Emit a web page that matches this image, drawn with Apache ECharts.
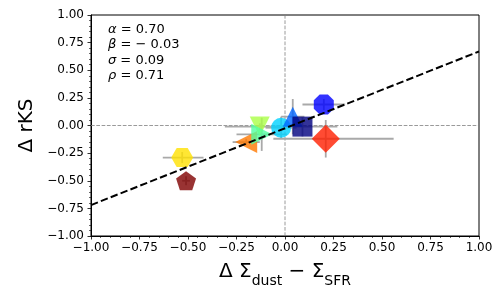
<!DOCTYPE html>
<html>
<head>
<meta charset="utf-8">
<script src="https://cdn.jsdelivr.net/npm/echarts@6/dist/echarts.min.js"></script>
<style>
  html, body { margin: 0; padding: 0; background: #fff; }
  #chart { width: 504px; height: 288px; }
</style>
</head>
<body>
<div id="chart"></div>
<script>
// ---- data ----
const pointNames = ['yellow', 'brown', 'orange', 'lightgreen', 'mint', 'cyan', 'blue', 'navy', 'red', 'octagon'];
const xVals    = [-0.53, -0.51, -0.20, -0.13, -0.12, -0.02, 0.04, 0.09, 0.21, 0.20];
const yVals    = [-0.29, -0.50, -0.15, -0.01, -0.08, -0.02, 0.08, -0.01, -0.12, 0.19];
const xErrLow  = [0.10, 0.02, 0.07, 0.18, 0.13, 0.08, 0.06, 0.18, 0.27, 0.11];
const xErrHigh = [0.11, 0.02, 0.07, 0.18, 0.13, 0.08, 0.06, 0.18, 0.35, 0.11];
const yErr     = [0.05, 0.04, 0.03, 0.03, 0.15, 0.10, 0.16, 0.09, 0.17, 0.05];
const fitX = [-1.0, 1.0];
const fitY = [-0.72, 0.67];
const xTicks = [-1.0, -0.75, -0.5, -0.25, 0.0, 0.25, 0.5, 0.75, 1.0];
const yTicks = [-1.0, -0.75, -0.5, -0.25, 0.0, 0.25, 0.5, 0.75, 1.0];
const statLines = [['α', '0.70'], ['β', '− 0.03'], ['σ', '0.09'], ['ρ', '0.71']];

// ---- styles ----
const HEX = 'path://M200,86.6 L150,173.2 L50,173.2 L0,86.6 L50,0 L150,0 Z';
const PENT = 'path://M95.1,0 L190.2,69.1 L153.9,180.9 L36.3,180.9 L0,69.1 Z';
const OCT = 'path://M70.7,0 L170.7,0 L241.4,70.7 L241.4,170.7 L170.7,241.4 L70.7,241.4 L0,170.7 L0,70.7 Z';
const markerShapes = [HEX, PENT, 'triangle', 'triangle', 'triangle', 'circle', 'triangle', 'rect', 'diamond', OCT];
const markerRotate = [0, 0, 90, 180, -90, 0, 0, 0, 0, 0];
const markerSizes  = [[22, 19], [20, 19], 22, 20, 21, 20, 20, 20, 28, 20];
const markerColors = ['rgb(255,225,0)', 'rgb(128,0,0)', 'rgb(255,120,0)', 'rgb(170,255,70)', 'rgb(80,255,160)',
                      'rgb(0,210,255)', 'rgb(0,100,255)', 'rgb(0,0,128)', 'rgb(255,30,0)', 'rgb(0,0,255)'];

const FONT = 'DejaVu Sans';
const fmt = v => (v < 0 ? '\u2212' : '') + Math.abs(v).toFixed(2);

const chart = echarts.init(document.getElementById('chart'), null, { renderer: 'canvas' });

const errData = xVals.map((x, i) => [x, yVals[i], xErrLow[i], xErrHigh[i], yErr[i]]);
const scatterData = xVals.map((x, i) => ({
  name: pointNames[i],
  value: [x, yVals[i]],
  symbol: markerShapes[i],
  symbolSize: markerSizes[i],
  symbolRotate: markerRotate[i],
  itemStyle: { color: markerColors[i], opacity: 0.8 }
}));

const axisCommon = {
  min: -1, max: 1, interval: 0.25,
  axisLine: { show: true, onZero: false, lineStyle: { color: '#000', width: 1 } },
  axisTick: { show: true, inside: false, length: 3.5, lineStyle: { color: '#000', width: 0.8 } },
  minorTick: { show: true, splitNumber: 5, length: 2, lineStyle: { color: '#000', width: 0.6 } },
  splitLine: { show: false },
  axisLabel: { color: '#000', fontFamily: FONT, fontSize: 12, formatter: v => fmt(v) }
};

const option = {
  animation: false,
  backgroundColor: '#fff',
  grid: { left: 91, right: 25, top: 15, bottom: 52, containLabel: false, outerBoundsMode: 'none',
          show: true, borderColor: '#000', borderWidth: 1, backgroundColor: 'transparent' },
  xAxis: Object.assign({}, axisCommon, {
    type: 'value',
    axisLabel: Object.assign({}, axisCommon.axisLabel, { margin: 6, customValues: xTicks }),
    name: '{a|Δ Σ}{s|dust}{a| − Σ}{s|SFR}',
    nameLocation: 'middle',
    nameGap: 26,
    nameTextStyle: {
      rich: {
        a: { fontFamily: FONT, fontSize: 20, color: '#000', lineHeight: 22, verticalAlign: 'top' },
        s: { fontFamily: FONT, fontSize: 14, color: '#000', lineHeight: 14, padding: [12, 0, 0, 0], verticalAlign: 'top' }
      }
    }
  }),
  yAxis: Object.assign({}, axisCommon, {
    type: 'value',
    axisLabel: Object.assign({}, axisCommon.axisLabel, { margin: 7, customValues: yTicks }),
    name: 'Δ rKS',
    nameLocation: 'middle',
    nameGap: 52,
    nameTextStyle: { fontFamily: FONT, fontSize: 20, color: '#000' }
  }),
  graphic: statLines.map((l, i) => ({
    type: 'text',
    left: 108,
    top: 23 + i * 15.5,
    style: {
      text: '{g|' + l[0] + '}{n| = ' + l[1] + '}',
      rich: {
        g: { fontFamily: FONT, fontStyle: 'italic', fontSize: 13, fill: '#000' },
        n: { fontFamily: FONT, fontSize: 13, fill: '#000' }
      }
    },
    z: 10
  })),
  series: [
    {
      type: 'line',
      name: 'zero-h',
      data: [[-1, 0], [1, 0]],
      symbol: 'none',
      lineStyle: { color: '#808080', width: 0.8, type: [3.7, 1.6] },
      z: 1, silent: true
    },
    {
      type: 'line',
      name: 'zero-v',
      data: [[0, -1], [0, 1]],
      symbol: 'none',
      lineStyle: { color: '#808080', width: 0.8, type: [3.7, 1.6] },
      z: 1, silent: true
    },
    {
      type: 'custom',
      name: 'errors',
      data: errData,
      z: 2,
      renderItem: (params, api) => {
        const x = api.value(0), y = api.value(1);
        const a = api.coord([x - api.value(2), y]);
        const b = api.coord([x + api.value(3), y]);
        const c = api.coord([x, y - api.value(4)]);
        const d = api.coord([x, y + api.value(4)]);
        const st = { stroke: '#a9a9a9', lineWidth: 1.8 };
        return {
          type: 'group',
          children: [
            { type: 'line', shape: { x1: a[0], y1: a[1], x2: b[0], y2: b[1] }, style: st },
            { type: 'line', shape: { x1: c[0], y1: c[1], x2: d[0], y2: d[1] }, style: st }
          ]
        };
      }
    },
    {
      type: 'scatter',
      name: 'points',
      data: scatterData,
      z: 3
    },
    {
      type: 'line',
      name: 'fit',
      data: fitX.map((x, i) => [x, fitY[i]]),
      symbol: 'none',
      lineStyle: { color: '#000', width: 2, type: [7.4, 3.2] },
      z: 4, silent: true
    }
  ]
};
chart.setOption(option);
</script>
</body>
</html>
